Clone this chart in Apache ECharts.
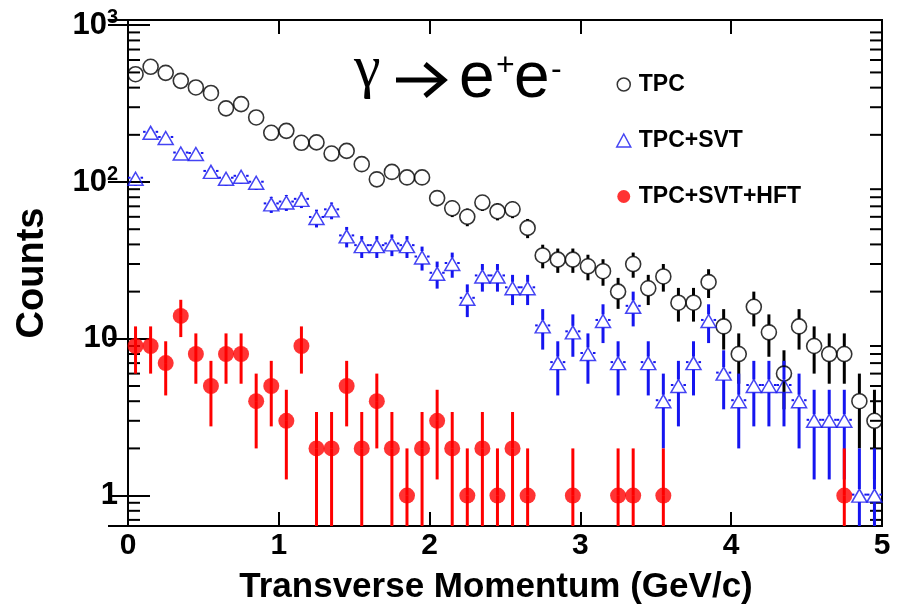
<!DOCTYPE html>
<html><head><meta charset="utf-8">
<script src="https://cdn.jsdelivr.net/npm/echarts@6/dist/echarts.min.js"></script>
<style>html,body{margin:0;padding:0;background:#fff}#c{width:897px;height:610px}</style>
</head><body><div id="c"></div>
<script>
// Bin centres (GeV/c), bin width 0.1
const ptBins = [0.05,0.15,0.25,0.35,0.45,0.55,0.65,0.75,0.85,0.95,
  1.05,1.15,1.25,1.35,1.45,1.55,1.65,1.75,1.85,1.95,
  2.05,2.15,2.25,2.35,2.45,2.55,2.65,2.75,2.85,2.95,
  3.05,3.15,3.25,3.35,3.45,3.55,3.65,3.75,3.85,3.95,
  4.05,4.15,4.25,4.35,4.45,4.55,4.65,4.75,4.85,4.95];
const halfBin = 0.05;
// Counts per bin (null = empty bin)
const countsTPC = [487,543,497,442,401,370,295,314,258,206,
  212,178,179,152,158,130,104,116,107,107,
  79,68,60,74,65,67,51,34,32,32,
  29,27,20,30,21,25,17,17,23,12,
  8,16,11,6,12,9,8,8,4,3];
const countsTPCSVT = [105,206,191,152,151,116,105,108,99,72,
  74,77,59,66,45,39,39,40,39,33,
  26,30,18,25,25,21,21,12,7,11,
  8,13,7,16,7,4,5,7,13,6,
  4,5,5,5,4,3,3,3,1,1];
const countsHFT = [9,9,7,14,8,5,8,8,4,5,
  3,9,2,2,5,2,4,2,1,2,
  3,2,1,2,1,2,1,null,null,1,
  null,null,1,1,null,1,null,null,null,null,
  null,null,null,null,null,null,null,1,null,null];
const seriesNames = ['TPC','TPC+SVT','TPC+SVT+HFT'];
const seriesColors = ['#000000','#1515f0','#ff0000'];
const xTicks = [0,1,2,3,4,5];
const yTickValues = [1,10,100,1000];
const yTickLabels = ['1','10','{b|10}{sup|2}','{b|10}{sup|3}'];
const yMinorTicks = [0.7,0.8,0.9,2,3,4,5,6,7,8,9,20,30,40,50,60,70,80,90,200,300,400,500,600,700,800,900];

const FONT = 'Liberation Sans, Arial, Helvetica, sans-serif';
const chart = echarts.init(document.getElementById('c'), null, {renderer:'canvas'});

function pairs(vals){
  const out = [];
  vals.forEach((v,i)=>{ if(v!=null && v>0) out.push([ptBins[i], v]); });
  return out;
}
// Poisson (sqrt N) error bars, drawn outside the marker like ROOT
function errSeries(idx, vals, gap, xGap){
  const color = seriesColors[idx];
  return {
    type:'custom', name: seriesNames[idx]+' err', silent:true, z: 2+idx,
    data: pairs(vals),
    renderItem(params, api){
      const x = api.value(0), y = api.value(1), e = Math.sqrt(y);
      const cs = params.coordSys;
      const p = api.coord([x,y]);
      const top = Math.max(cs.y, api.coord([x, y+e])[1]);
      const bottom = (y-e) > 0 ? Math.min(cs.y+cs.height, api.coord([x, y-e])[1]) : cs.y+cs.height;
      const st = {stroke: color, lineWidth: 3};
      const ch = [];
      if (p[1]-gap > top) ch.push({type:'line', shape:{x1:p[0],y1:top,x2:p[0],y2:p[1]-gap}, style:st});
      if (bottom > p[1]+gap) ch.push({type:'line', shape:{x1:p[0],y1:p[1]+gap,x2:p[0],y2:bottom}, style:st});
      if (xGap){
        const hw = api.coord([x+halfBin, y])[0]-p[0];
        if (hw > xGap){
          const s2 = {stroke: color, lineWidth: 2};
          ch.push({type:'line', shape:{x1:p[0]-hw,y1:p[1]-1,x2:p[0]-xGap,y2:p[1]-1}, style:s2});
          ch.push({type:'line', shape:{x1:p[0]+xGap,y1:p[1]-1,x2:p[0]+hw,y2:p[1]-1}, style:s2});
        }
      }
      return {type:'group', children: ch};
    }
  };
}

const option = {
  backgroundColor:'#fff',
  animation:false,
  grid:{left:128, top:20, width:754, height:507, show:true, borderColor:'#000', borderWidth:2, backgroundColor:'transparent'},
  legend:{
    orient:'vertical', left:611, top:68, itemWidth:14, itemHeight:13, itemGap:33,
    textStyle:{fontFamily:FONT, fontSize:23, fontWeight:'bold', color:'#000', padding:[0,0,0,3]},
    data:[
      {name:seriesNames[0], icon:'circle', itemStyle:{color:'transparent', borderColor:'#000', borderWidth:1.5}},
      {name:seriesNames[1], icon:'triangle', itemStyle:{color:'transparent', borderColor:seriesColors[1], borderWidth:1.5}},
      {name:seriesNames[2], icon:'circle', itemStyle:{color:seriesColors[2]}}
    ]
  },
  xAxis:[{
    type:'value', min:xTicks[0], max:xTicks[xTicks.length-1], interval:1, position:'bottom',
    name:'Transverse Momentum (GeV/c)', nameLocation:'middle', nameGap:44,
    nameTextStyle:{fontFamily:FONT, fontSize:35, fontWeight:'bold', color:'#000', padding:[0,18,0,0]},
    axisLine:{show:true, lineStyle:{color:'#000', width:2}},
    axisTick:{show:true, inside:true, length:14, lineStyle:{color:'#000', width:2}},
    axisLabel:{fontFamily:FONT, fontSize:30, fontWeight:'bold', color:'#000', margin:5},
    splitLine:{show:false}
  },{
    type:'value', min:xTicks[0], max:xTicks[xTicks.length-1], interval:1, position:'top',
    axisLine:{show:true, lineStyle:{color:'#000', width:2}},
    axisTick:{show:true, inside:true, length:14, lineStyle:{color:'#000', width:2}},
    axisLabel:{show:false}, splitLine:{show:false}
  }],
  yAxis:[{
    type:'log', logBase:10, min:0.64, max:1080, position:'left',
    name:'Counts', nameLocation:'middle', nameGap:76, nameRotate:90,
    nameTextStyle:{fontFamily:FONT, fontSize:38, fontWeight:'bold', color:'#000'},
    axisLine:{show:true, lineStyle:{color:'#000', width:2}},
    axisTick:{show:true, inside:true, length:22, lineStyle:{color:'#000', width:2}},
    axisLabel:{
      showMinLabel:false, showMaxLabel:false, margin:10, color:'#000',
      fontFamily:FONT, fontSize:31, fontWeight:'bold',
      formatter:(v)=>{ const k = yTickValues.findIndex(t=>Math.abs(t-v)/t<1e-6); return k<0?'':yTickLabels[k]; },
      rich:{
        b:{fontFamily:FONT, fontSize:31, fontWeight:'bold', color:'#000', lineHeight:36},
        sup:{fontFamily:FONT, fontSize:20, fontWeight:'bold', color:'#000', verticalAlign:'top', lineHeight:20}
      }
    },
    splitLine:{show:false}, minorTick:{show:false}
  },{
    type:'log', logBase:10, min:0.64, max:1080, position:'right',
    axisLine:{show:true, lineStyle:{color:'#000', width:2}},
    axisTick:{show:true, inside:true, length:20, lineStyle:{color:'#000', width:2}},
    axisLabel:{show:false}, splitLine:{show:false}
  }],
  series:[
    {
      type:'custom', name:'minor ticks', silent:true, z:1,
      data: yMinorTicks.map(v=>[2.5, v]),
      renderItem(params, api){
        const cs = params.coordSys;
        const y = api.coord([2.5, api.value(1)])[1];
        const st = {stroke:'#000', lineWidth:2};
        return {type:'group', children:[
          {type:'line', shape:{x1:cs.x, y1:y, x2:cs.x+12, y2:y}, style:st},
          {type:'line', shape:{x1:cs.x+cs.width-12, y1:y, x2:cs.x+cs.width, y2:y}, style:st}
        ]};
      }
    },
    errSeries(0, countsTPC, 7.5, 0),
    errSeries(1, countsTPCSVT, 6.5, 5),
    errSeries(2, countsHFT, 0, 0),
    {type:'scatter', name:seriesNames[0], data:pairs(countsTPC), symbol:'circle', symbolSize:15, z:5,
      itemStyle:{color:'transparent', borderColor:'#000', borderWidth:1.6}},
    {type:'scatter', name:seriesNames[1], data:pairs(countsTPCSVT), symbol:'triangle', symbolSize:[15,13], z:6,
      itemStyle:{color:'transparent', borderColor:seriesColors[1], borderWidth:1.5}},
    {type:'scatter', name:seriesNames[2], data:pairs(countsHFT), symbol:'circle', symbolSize:16, z:7,
      itemStyle:{color:seriesColors[2]}}
  ],
  graphic:[
    {type:'text', x:354, y:70, style:{text:'γ', font:'60px Liberation Serif, serif', fill:'#000', verticalAlign:'middle'}},
    {type:'line', shape:{x1:396, y1:80, x2:442, y2:80}, style:{stroke:'#000', lineWidth:5}},
    {type:'polyline', shape:{points:[[425,64],[444,80],[425,96]]}, style:{stroke:'#000', lineWidth:5, fill:null, lineJoin:'miter'}},
    {type:'text', x:459, y:79, style:{text:'e', font:'64px '+FONT, fill:'#000', verticalAlign:'middle'}},
    {type:'text', x:496, y:66, style:{text:'+', font:'32px '+FONT, fill:'#000', verticalAlign:'middle'}},
    {type:'text', x:514, y:79, style:{text:'e', font:'64px '+FONT, fill:'#000', verticalAlign:'middle'}},
    {type:'text', x:551, y:70, style:{text:'-', font:'32px '+FONT, fill:'#000', verticalAlign:'middle'}}
  ]
};
chart.setOption(option);
</script></body></html>
